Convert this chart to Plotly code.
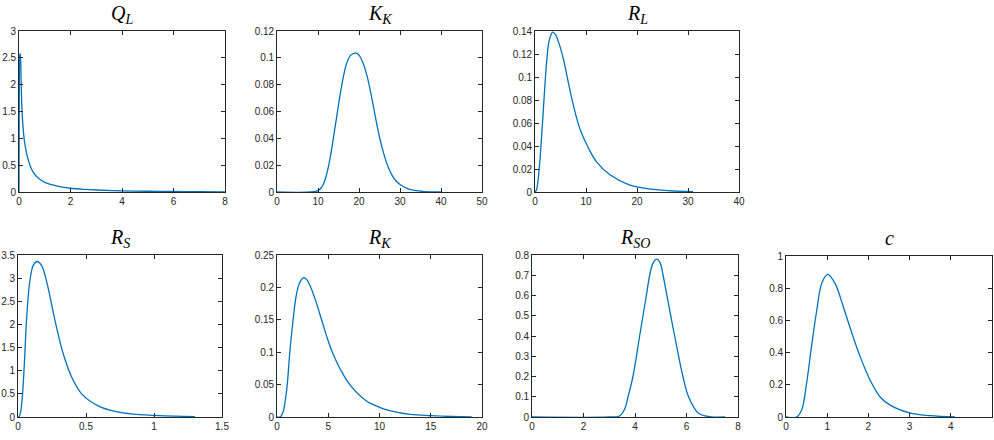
import plotly.graph_objects as go

W, H = 994, 440

# ---- data ----
QL_x = [0, 0.005, 0.015, 0.03, 0.05, 0.08, 0.11, 0.15, 0.21, 0.28, 0.34, 0.44, 0.54, 0.7, 0.86, 1.1, 1.38, 1.7, 2.0, 2.5, 3.0, 4.0, 5.0, 6.0, 7.0, 8.0]
QL_y = [0, 1.0, 2.2, 2.55, 2.58, 2.1, 1.6, 1.25, 0.95, 0.76, 0.63, 0.48, 0.38, 0.28, 0.22, 0.16, 0.125, 0.09, 0.07, 0.05, 0.037, 0.022, 0.014, 0.009, 0.006, 0.004]

KK_x = [0, 8, 10, 11, 12, 13, 14, 15, 16, 17, 18, 19, 19.4, 20, 21, 22, 23, 24, 25, 26, 27, 28, 29, 30, 31, 32, 33, 34, 35, 36, 38, 40]
KK_y = [0, 0, 0.001, 0.004, 0.012, 0.026, 0.045, 0.065, 0.083, 0.096, 0.102, 0.1035, 0.1035, 0.102, 0.096, 0.086, 0.072, 0.056, 0.041, 0.029, 0.0195, 0.0128, 0.0084, 0.0056, 0.0037, 0.0024, 0.0015, 0.001, 0.0006, 0.0003, 0.0001, 0]

RL_x = [0, 0.3, 0.6, 0.9, 1.2, 1.5, 1.8, 2.1, 2.4, 2.8, 3.46, 4.0, 4.57, 5.55, 6.5, 7.5, 8.8, 10.5, 12.1, 14.7, 18.6, 22, 26, 31]
RL_y = [0, 0.002, 0.01, 0.024, 0.042, 0.062, 0.083, 0.103, 0.119, 0.132, 0.139, 0.137, 0.131, 0.116, 0.096, 0.076, 0.055, 0.038, 0.026, 0.015, 0.006, 0.003, 0.0012, 0.0003]

RS_x = [0, 0.007, 0.02, 0.032, 0.047, 0.064, 0.088, 0.113, 0.142, 0.174, 0.211, 0.248, 0.284, 0.333, 0.395, 0.468, 0.59, 0.713, 0.85, 1.0, 1.15, 1.3]
RS_y = [0, 0, 0.12, 0.44, 1.16, 2.16, 2.96, 3.28, 3.36, 3.27, 2.92, 2.42, 1.93, 1.36, 0.86, 0.5, 0.24, 0.12, 0.06, 0.035, 0.018, 0.01]

RK_x = [0, 0.3, 0.6, 0.8, 1.0, 1.25, 1.57, 1.8, 2.05, 2.3, 2.6, 2.9, 3.3, 3.8, 4.35, 4.9, 5.4, 6.2, 7.1, 8.7, 10, 11, 13, 15, 17, 19]
RK_y = [0, 0, 0.008, 0.025, 0.05, 0.1, 0.15, 0.18, 0.2, 0.21, 0.215, 0.212, 0.2, 0.178, 0.15, 0.122, 0.1, 0.073, 0.05, 0.025, 0.015, 0.01, 0.004, 0.002, 0.0008, 0.0003]

RSO_x = [0, 3.0, 3.4, 3.6, 3.73, 3.92, 4.18, 4.44, 4.57, 4.7, 4.84, 4.98, 5.09, 5.24, 5.54, 5.86, 6.08, 6.45, 6.9, 7.5]
RSO_y = [0, 0, 0.005, 0.04, 0.1, 0.2, 0.4, 0.6, 0.7, 0.76, 0.78, 0.76, 0.7, 0.6, 0.4, 0.2, 0.1, 0.02, 0.002, 0]

C_x = [0, 0.26, 0.38, 0.5, 0.62, 0.745, 0.866, 1.01, 1.19, 1.39, 1.6, 1.8, 2.04, 2.28, 2.52, 3.0, 3.5, 4.1]
C_y = [0, 0, 0.043, 0.21, 0.44, 0.66, 0.83, 0.886, 0.83, 0.685, 0.52, 0.375, 0.23, 0.126, 0.075, 0.025, 0.008, 0]

titles = ["<i>Q</i><sub><i>L</i></sub>", "<i>K</i><sub><i>K</i></sub>", "<i>R</i><sub><i>L</i></sub>",
          "<i>R</i><sub><i>S</i></sub>", "<i>R</i><sub><i>K</i></sub>", "<i>R</i><sub><i>SO</i></sub>", "<i>c</i>"]

xticks = [[0, 2, 4, 6, 8], [0, 10, 20, 30, 40, 50], [0, 10, 20, 30, 40],
          [0, 0.5, 1, 1.5], [0, 5, 10, 15, 20], [0, 2, 4, 6, 8], [0, 1, 2, 3, 4, 5]]
xtext = [["0", "2", "4", "6", "8"], ["0", "10", "20", "30", "40", "50"], ["0", "10", "20", "30", "40"],
         ["0", "0.5", "1", "1.5"], ["0", "5", "10", "15", "20"], ["0", "2", "4", "6", "8"], ["0", "1", "2", "3", "4", "5"]]
yticks = [[0, 0.5, 1, 1.5, 2, 2.5, 3], [0, 0.02, 0.04, 0.06, 0.08, 0.1, 0.12],
          [0, 0.02, 0.04, 0.06, 0.08, 0.1, 0.12, 0.14], [0, 0.5, 1, 1.5, 2, 2.5, 3, 3.5],
          [0, 0.05, 0.1, 0.15, 0.2, 0.25], [0, 0.1, 0.2, 0.3, 0.4, 0.5, 0.6, 0.7, 0.8],
          [0, 0.2, 0.4, 0.6, 0.8, 1]]
ytext = [["0", "0.5", "1", "1.5", "2", "2.5", "3"], ["0", "0.02", "0.04", "0.06", "0.08", "0.1", "0.12"],
         ["0", "0.02", "0.04", "0.06", "0.08", "0.1", "0.12", "0.14"], ["0", "0.5", "1", "1.5", "2", "2.5", "3", "3.5"],
         ["0", "0.05", "0.1", "0.15", "0.2", "0.25"], ["0", "0.1", "0.2", "0.3", "0.4", "0.5", "0.6", "0.7", "0.8"],
         ["0", "0.2", "0.4", "0.6", "0.8", "1"]]

series = [(QL_x, QL_y), (KK_x, KK_y), (RL_x, RL_y), (RS_x, RS_y), (RK_x, RK_y), (RSO_x, RSO_y), (C_x, C_y)]

# pixel boxes (left, right, top, bottom)
boxes = [(19, 225, 31, 192), (277, 482, 31, 192), (535, 739, 31, 192),
         (18, 222, 255, 417), (277, 482, 255, 417), (532, 738, 255, 417), (786, 992, 256, 417)]

fig = go.Figure()
axcol = "#262626"
tickfont = dict(family="Liberation Sans, Arial, sans-serif", size=10, color=axcol)
anns = []
for i, ((xs, ys), (l, r, t, b)) in enumerate(zip(series, boxes)):
    n = "" if i == 0 else str(i + 1)
    fig.add_trace(go.Scatter(x=xs, y=ys, mode="lines", xaxis="x" + n, yaxis="y" + n,
                             line=dict(color="#0072BD", width=1.3, shape="spline", smoothing=1.0),
                             showlegend=False, hoverinfo="skip", cliponaxis=False))
    common = dict(showgrid=False, zeroline=False, showline=True, linecolor=axcol, linewidth=0.8,
                  mirror="ticks", ticks="inside", ticklen=4, tickcolor=axcol, tickwidth=0.8,
                  tickfont=tickfont, fixedrange=True, automargin=False)
    fig.update_layout(**{
        "xaxis" + n: dict(domain=[l / W, r / W], anchor="y" + n, range=[xticks[i][0], xticks[i][-1]],
                          tickmode="array", tickvals=xticks[i], ticktext=xtext[i], **common),
        "yaxis" + n: dict(domain=[1 - b / H, 1 - t / H], anchor="x" + n, range=[yticks[i][0], yticks[i][-1]],
                          tickmode="array", tickvals=yticks[i], ticktext=ytext[i], **common),
    })
    anns.append(dict(text=titles[i], xref="paper", yref="paper", x=(l + r) / 2 / W,
                     y=1 - (t - 31) / H, xanchor="center", yanchor="top", showarrow=False,
                     font=dict(family="Liberation Serif, Times New Roman, serif", size=20, color="black")))

fig.update_layout(width=W, height=H, margin=dict(l=0, r=0, t=0, b=0),
                  paper_bgcolor="white", plot_bgcolor="white", annotations=anns)
fig.write_html("out.html")
